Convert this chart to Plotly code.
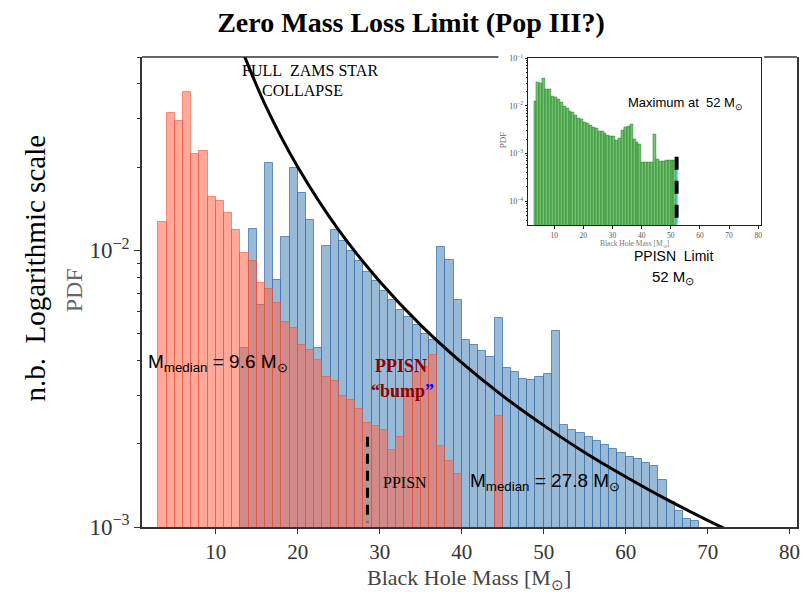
import plotly.graph_objects as go

# ---------------- data ----------------
red_bins = list(range(3, 52))          # left edges of 1 Msun bins
red_pdf = [0.01264, 0.0313, 0.0294, 0.0373, 0.0223, 0.0228, 0.01558, 0.01507,
           0.01367, 0.01181, 0.00978, 0.00913, 0.00764, 0.00723, 0.00647, 0.00551,
           0.00526, 0.00454, 0.00438, 0.00401, 0.00349, 0.00338, 0.00298, 0.00289,
           0.00267, 0.00237, 0.00232, 0.00225, 0.0019, 0.00211, 0.0031, 0.0036,
           0.0038, 0.0042, 0.00197, 0.00173, 0.00155, 0.00065, 0.00065, 0.00064,
           0.00065, 0.00252, 0.00076, 0.00069, 0.0007, 0.00072, 0.00072, 0.00072,
           0.00072]
blue_bins = list(range(13, 69))
blue_pdf = [0.00442, 0.01198, 0.00633, 0.02074, 0.0078, 0.01117, 0.01982, 0.0161,
            0.0129, 0.00444, 0.01034, 0.01188, 0.01078, 0.00992, 0.00915, 0.00835,
            0.00773, 0.00713, 0.0066, 0.00611, 0.00574, 0.00536, 0.005, 0.00473,
            0.01028, 0.00926, 0.0066, 0.00473, 0.00454, 0.00432, 0.00412, 0.0057,
            0.00377, 0.00362, 0.00344, 0.0034, 0.00349, 0.00356, 0.0051, 0.00233,
            0.00225, 0.00219, 0.00211, 0.00205, 0.00198, 0.00191, 0.00185, 0.00179,
            0.00176, 0.0017, 0.00166, 0.00148, 0.00123, 0.00114, 0.00107, 0.00105]
zams_mass = [13, 16, 20, 25, 30, 35, 40, 45, 50, 55, 60, 65, 70, 73]
zams_pdf = [0.0549, 0.0337, 0.0200, 0.01183, 0.00772, 0.00537, 0.00393, 0.00298,
            0.00233, 0.00186, 0.00152, 0.001258, 0.001057, 0.000958]
ppisn_main_x = [28.5, 28.5]
ppisn_main_y = [0.00212, 0.00104]
ppisn_inset_x = [52, 52]
ppisn_inset_y = [0.00086, 0.000032]
x_ticks = [10, 20, 30, 40, 50, 60, 70, 80]
y_ticks_main = [1e-3, 1e-2]
y_ticktext_main = ["10<sup>\u22123</sup>", "10<sup>\u22122</sup>"]
y_ticks_inset = [1e-4, 1e-3, 1e-2, 1e-1]
y_ticktext_inset = ["10<sup>\u22124</sup>", "10<sup>\u22123</sup>", "10<sup>\u22122</sup>", "10<sup>\u22121</sup>"]

SERIF = "Liberation Serif, Times New Roman, serif"
SANS = "Liberation Sans, Arial, sans-serif"

# geometry helpers (pixel -> paper)
L, R, T, B = 142, 800, 57, 527
W, H = 806, 592
def px(x):
    return (x - L) / (R - L)
def py(y):
    return (B - y) / (B - T)

fig = go.Figure()

# main histograms
fig.add_trace(go.Bar(x=[b + 0.5 for b in blue_bins], y=blue_pdf, width=1.0,
                     marker=dict(color="rgba(70,130,180,0.55)",
                                 line=dict(color="rgba(60,115,175,0.75)", width=1)),
                     xaxis="x", yaxis="y", showlegend=False))
fig.add_trace(go.Bar(x=[b + 0.5 for b in red_bins], y=red_pdf, width=1.0,
                     marker=dict(color="rgba(255,99,71,0.55)",
                                 line=dict(color="rgba(235,85,60,0.6)", width=1)),
                     xaxis="x", yaxis="y", showlegend=False))
# ZAMS collapse curve
fig.add_trace(go.Scatter(x=zams_mass, y=zams_pdf, mode="lines", line_shape="spline",
                         line=dict(color="black", width=3), xaxis="x", yaxis="y",
                         showlegend=False))
# PPISN dashed marker (main)
fig.add_trace(go.Scatter(x=ppisn_main_x, y=ppisn_main_y, mode="lines",
                         line=dict(color="#3cc8aa", width=1.5), xaxis="x", yaxis="y",
                         showlegend=False))
fig.add_trace(go.Scatter(x=ppisn_main_x, y=ppisn_main_y, mode="lines",
                         line=dict(color="black", width=3, dash="10px,7px"),
                         xaxis="x", yaxis="y", showlegend=False))

# inset
fig.add_trace(go.Bar(x=[b + 0.5 for b in red_bins], y=red_pdf, width=1.0,
                     marker=dict(color="rgba(0,140,0,0.55)",
                                 line=dict(color="rgba(0,110,0,0.6)", width=0.6)),
                     xaxis="x2", yaxis="y2", showlegend=False))
fig.add_trace(go.Scatter(x=ppisn_inset_x, y=ppisn_inset_y, mode="lines",
                         line=dict(color="#3cc8aa", width=2), xaxis="x2", yaxis="y2",
                         showlegend=False))
fig.add_trace(go.Scatter(x=ppisn_inset_x, y=ppisn_inset_y, mode="lines",
                         line=dict(color="black", width=4, dash="13px,11px"),
                         xaxis="x2", yaxis="y2", showlegend=False))

minor_main = [k * 1e-3 for k in range(2, 10)] + [k * 1e-2 for k in range(2, 6)]
minor_inset = [k * 10.0 ** e for e in (-5, -4, -3, -2) for k in range(2, 10)]

axis_color = "#333333"
fig.update_layout(
    width=W, height=H,
    margin=dict(l=L, r=W - R, t=T, b=H - B),
    paper_bgcolor="white", plot_bgcolor="white",
    barmode="overlay", bargap=0,
    title=dict(text="<b>Zero Mass Loss Limit (Pop III?)</b>",
               font=dict(family=SERIF, size=28, color="black"),
               x=411 / W, xref="container", xanchor="center",
               y=1 - 22 / H, yref="container", yanchor="middle"),
    xaxis=dict(domain=[0, 1], range=[1.0, 80.9], showline=True, linecolor=axis_color,
               linewidth=1.5, mirror=False, ticks="outside", ticklen=5, tickwidth=1.2,
               tickcolor=axis_color, tickvals=x_ticks,
               tickfont=dict(family=SERIF, size=21, color=axis_color),
               showgrid=False, zeroline=False),
    yaxis=dict(domain=[0, 1], type="log", range=[-3, -1.301], showline=True,
               linecolor=axis_color, linewidth=1.5, mirror=True, ticks="outside",
               ticklen=6, tickwidth=1.2, tickcolor=axis_color,
               tickvals=y_ticks_main, ticktext=y_ticktext_main,
               tickfont=dict(family=SERIF, size=23, color=axis_color),
               minor=dict(tickvals=minor_main, ticks="outside", ticklen=3.5,
                          tickwidth=1, tickcolor=axis_color),
               showgrid=False, zeroline=False),
    xaxis2=dict(domain=[px(530), px(764.3)], anchor="y2", range=[1.1, 81.1],
                showline=True, linecolor="#222", linewidth=1, mirror=True,
                ticks="outside", ticklen=2.5, tickwidth=0.8, tickcolor="#222",
                tickvals=x_ticks, tickfont=dict(family=SERIF, size=7.5, color="#555"),
                showgrid=False, zeroline=False),
    yaxis2=dict(domain=[py(225), py(58.3)], anchor="x2", type="log", range=[-4.5, -1],
                showline=True, linecolor="#222", linewidth=1, mirror=True,
                ticks="outside", ticklen=2.5, tickwidth=0.8, tickcolor="#222",
                tickvals=y_ticks_inset, ticktext=y_ticktext_inset,
                tickfont=dict(family=SERIF, size=8, color="#555"),
                minor=dict(tickvals=minor_inset, ticks="outside", ticklen=1.5,
                           tickwidth=0.6, tickcolor="#222"),
                showgrid=False, zeroline=False),
)

# main top border (interrupted by the inset panel)
fig.add_shape(type="line", xref="paper", yref="paper", x0=0, x1=px(500), y0=1, y1=1,
              line=dict(color=axis_color, width=1.5))
fig.add_shape(type="line", xref="paper", yref="paper", x0=px(767), x1=1, y0=1, y1=1,
              line=dict(color=axis_color, width=1.5))

def ann(text, x, y, size, family, color="black", xanchor="center", angle=0):
    fig.add_annotation(text=text, x=px(x), y=py(y), xref="paper", yref="paper",
                       xanchor=xanchor, yanchor="middle", showarrow=False,
                       textangle=angle, font=dict(family=family, size=size, color=color))

ann("FULL\u00a0\u00a0ZAMS STAR", 311, 70, 16, SERIF)
ann("COLLAPSE", 303, 90, 16, SERIF)
ann("M<sub>median</sub> = 9.6 M<sub>\u2299</sub>", 146, 363, 19, SANS, xanchor="left")
ann("<b>PPISN</b>", 402, 366, 18, SERIF, color="#8b0000")
ann("<b>\u201cbump<span style='color:blue'>\u201d</span></b>", 404, 391, 18, SERIF,
    color="#8b0000")
ann("PPISN", 406, 482, 16, SERIF)
ann("M<sub>median</sub> = 27.8 M<sub>\u2299</sub>", 469, 482, 19, SANS, xanchor="left")
ann("Maximum at\u00a0\u00a052 M<sub>\u2299</sub>", 628, 103, 13, SANS, xanchor="left")
ann("PPISN\u00a0\u00a0Limit", 676, 256, 14, SANS)
ann("52 M<sub>\u2299</sub>", 675, 277, 15, SANS)
ann("PDF", 74, 290, 24, SERIF, color="#666666", angle=-90)
ann("n.b.\u00a0\u00a0Logarithmic scale", 35, 268, 29, SERIF, angle=-90)
ann("Black Hole Mass [M<sub>\u2299</sub>]", 470, 579, 22, SERIF, color="#444444")
ann("PDF", 505, 140, 9, SERIF, color="#666666", angle=-90)
ann("Black Hole Mass [M<sub>\u2299</sub>]", 637, 244, 7.5, SERIF, color="#777777")

fig.write_html("out.html")
